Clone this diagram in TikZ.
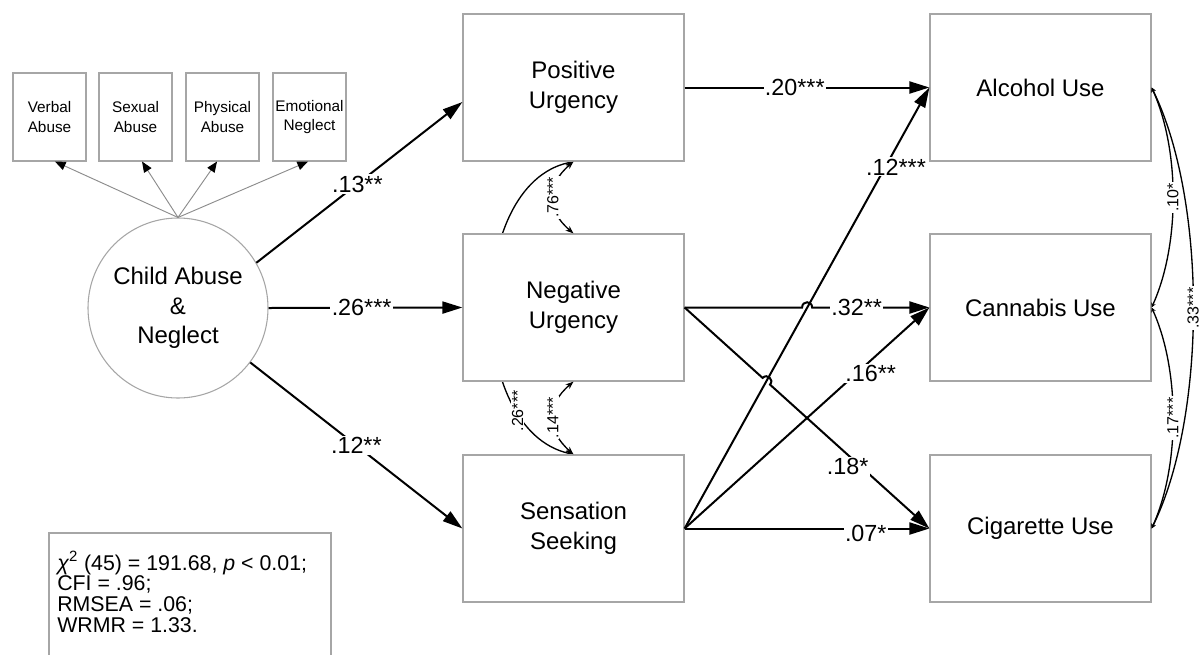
\documentclass[tikz,border=0pt]{standalone}
\usepackage{fontspec}
\setmainfont{Liberation Sans}
\usetikzlibrary{arrows.meta,calc,backgrounds}
\begin{document}
\begin{tikzpicture}[x=0.75pt,y=-0.75pt,
  box/.style={draw=gray!70,line width=0.9pt,fill=white,minimum width=165.75pt,minimum height=110.25pt,align=center,font=\fontsize{18}{22.5}\selectfont,inner sep=0pt},
  ind/.style={draw=gray!70,line width=0.8pt,fill=white,minimum width=54.75pt,minimum height=66pt,align=center,font=\fontsize{11.5}{14.5}\selectfont,inner sep=0pt},
  lat/.style={draw=gray!70,line width=0.8pt,fill=white,circle,minimum size=135pt,align=center,font=\fontsize{18}{22}\selectfont,inner sep=0pt},
  reg/.style={line width=1.5pt,-{Triangle[length=15pt,width=9pt]}},
  load/.style={draw=gray!90,line width=0.7pt,-{Triangle[length=8pt,width=6.5pt,color=black]}},
  lab/.style={fill=white,inner sep=1pt,font=\fontsize{17.5}{20}\selectfont},
  cov/.style={line width=1pt,{Stealth[length=6pt,width=4.5pt]}-{Stealth[length=6pt,width=4.5pt]}},
  clab/.style={fill=white,inner sep=0.8pt,rotate=90,font=\fontsize{12}{14}\selectfont},
  rcov/.style={line width=1pt,{Stealth[length=3.5pt,width=3.5pt]}-{Stealth[length=3.5pt,width=3.5pt]}},
  fitbox/.style={draw=gray!70,line width=0.9pt}
]
\useasboundingbox (0,0) rectangle (1203,654);

% indicators
\node[ind] (VA) at (49.5,117) {Verbal\\Abuse};
\node[ind] (SA) at (135.5,117) {Sexual\\Abuse};
\node[ind] (PA) at (222.5,117) {Physical\\Abuse};
\node[ind] (EN) at (309.5,117) {Emotional\\Neglect};
% latent
\node[lat] (CA) at (178,308) {Child Abuse\\\&\\Neglect};
% mediators
\node[box] (PU) at (573.5,87.5) {Positive\\Urgency};
\node[box] (NU) at (573.5,307.5) {Negative\\Urgency};
\node[box] (SS) at (573.5,528.5) {Sensation\\Seeking};
% outcomes
\node[box] (AL) at (1040.5,87.5) {Alcohol Use};
\node[box] (CN) at (1040.5,307.5) {Cannabis Use};
\node[box] (CG) at (1040.5,528.5) {Cigarette Use};

% fit box
\draw[fitbox] (49,533) rectangle (331,672);
\node[anchor=north west,align=left,inner sep=0pt,font=\fontsize{16}{15.6}\selectfont] (FIT) at (57,551)
  {\textit{χ}\textsuperscript{2} (45) = 191.68, \textit{p} < 0.01;\\CFI = .96;\\RMSEA = .06;\\WRMR = 1.33.};

% loadings
\draw[load] (CA.north) -- ([xshift=4.1pt]VA.south);
\draw[load] (CA.north) -- ([xshift=4.9pt]SA.south);
\draw[load] (CA.north) -- ([xshift=-4.1pt]PA.south);
\draw[load] (CA.north) -- ([xshift=-1.1pt]EN.south);

% regressions from CA
\coordinate (puin) at ($(PU.west)+(0,14.5)$);
\draw[reg] (CA.30) -- (puin) node[lab,pos=0.49]{.13**};
\draw[reg] (CA.east) -- (NU.west) node[lab,pos=0.48]{.26***};
\draw[reg] (CA.-37) -- (SS.west) node[lab,pos=0.5]{.12**};

% covariances among mediators
\begin{scope}[on background layer]
\draw[cov] (PU.south) .. controls (465,185) and (465,430) .. (SS.north) node[clab,pos=0.78]{.26***};
\end{scope}
\draw[cov] (PU.south) .. controls (546,185) and (546,210) .. (NU.north) node[clab,pos=0.5]{.76***};
\draw[cov] (NU.south) .. controls (546,405) and (546,430) .. (SS.north) node[clab,pos=0.5]{.14***};

% mediators -> outcomes
\draw[reg] (PU.east) -- (AL.west) node[lab,pos=0.45]{.20***};
\draw[reg] (SS.east) -- (AL.west) node[lab,pos=0.82,xshift=8pt]{.12***};

\coordinate (h1a) at ($(NU.east)!0.48!(CN.west)$);
\coordinate (h1b) at ($(NU.east)!0.521!(CN.west)$);
\draw[reg] (NU.east) -- (h1a) .. controls ($(h1a)+(0,-7)$) and ($(h1b)+(0,-7)$) .. (h1b) -- (CN.west) node[lab,pos=0.38]{.32**};

\coordinate (h2a) at ($(NU.east)!0.3187!(CG.west)$);
\coordinate (h2b) at ($(NU.east)!0.3489!(CG.west)$);
\draw[reg] (NU.east) -- (h2a) .. controls ($(h2a)+(4.4,-4.9)$) and ($(h2b)+(4.4,-4.9)$) .. (h2b) -- (CG.west) node[lab,pos=0.525,xshift=-4.5pt,yshift=-4.5pt]{.18*};

\draw[reg] (SS.east) -- (CN.west) node[lab,pos=0.70,xshift=11pt]{.16**};
\draw[reg] (SS.east) -- (CG.west) node[lab,pos=0.74,yshift=-4pt]{.07*};

% covariances among outcomes
\draw[rcov] (AL.east) .. controls (1180,150) and (1180,245) .. (CN.east) node[clab,pos=0.5]{.10*};
\draw[rcov] (CN.east) .. controls (1180,370) and (1180,466) .. (CG.east) node[clab,pos=0.5]{.17***};
\draw[rcov] (AL.east) .. controls (1207,200) and (1207,416) .. (CG.east) node[clab,pos=0.5]{.33***};
\end{tikzpicture}
\end{document}
